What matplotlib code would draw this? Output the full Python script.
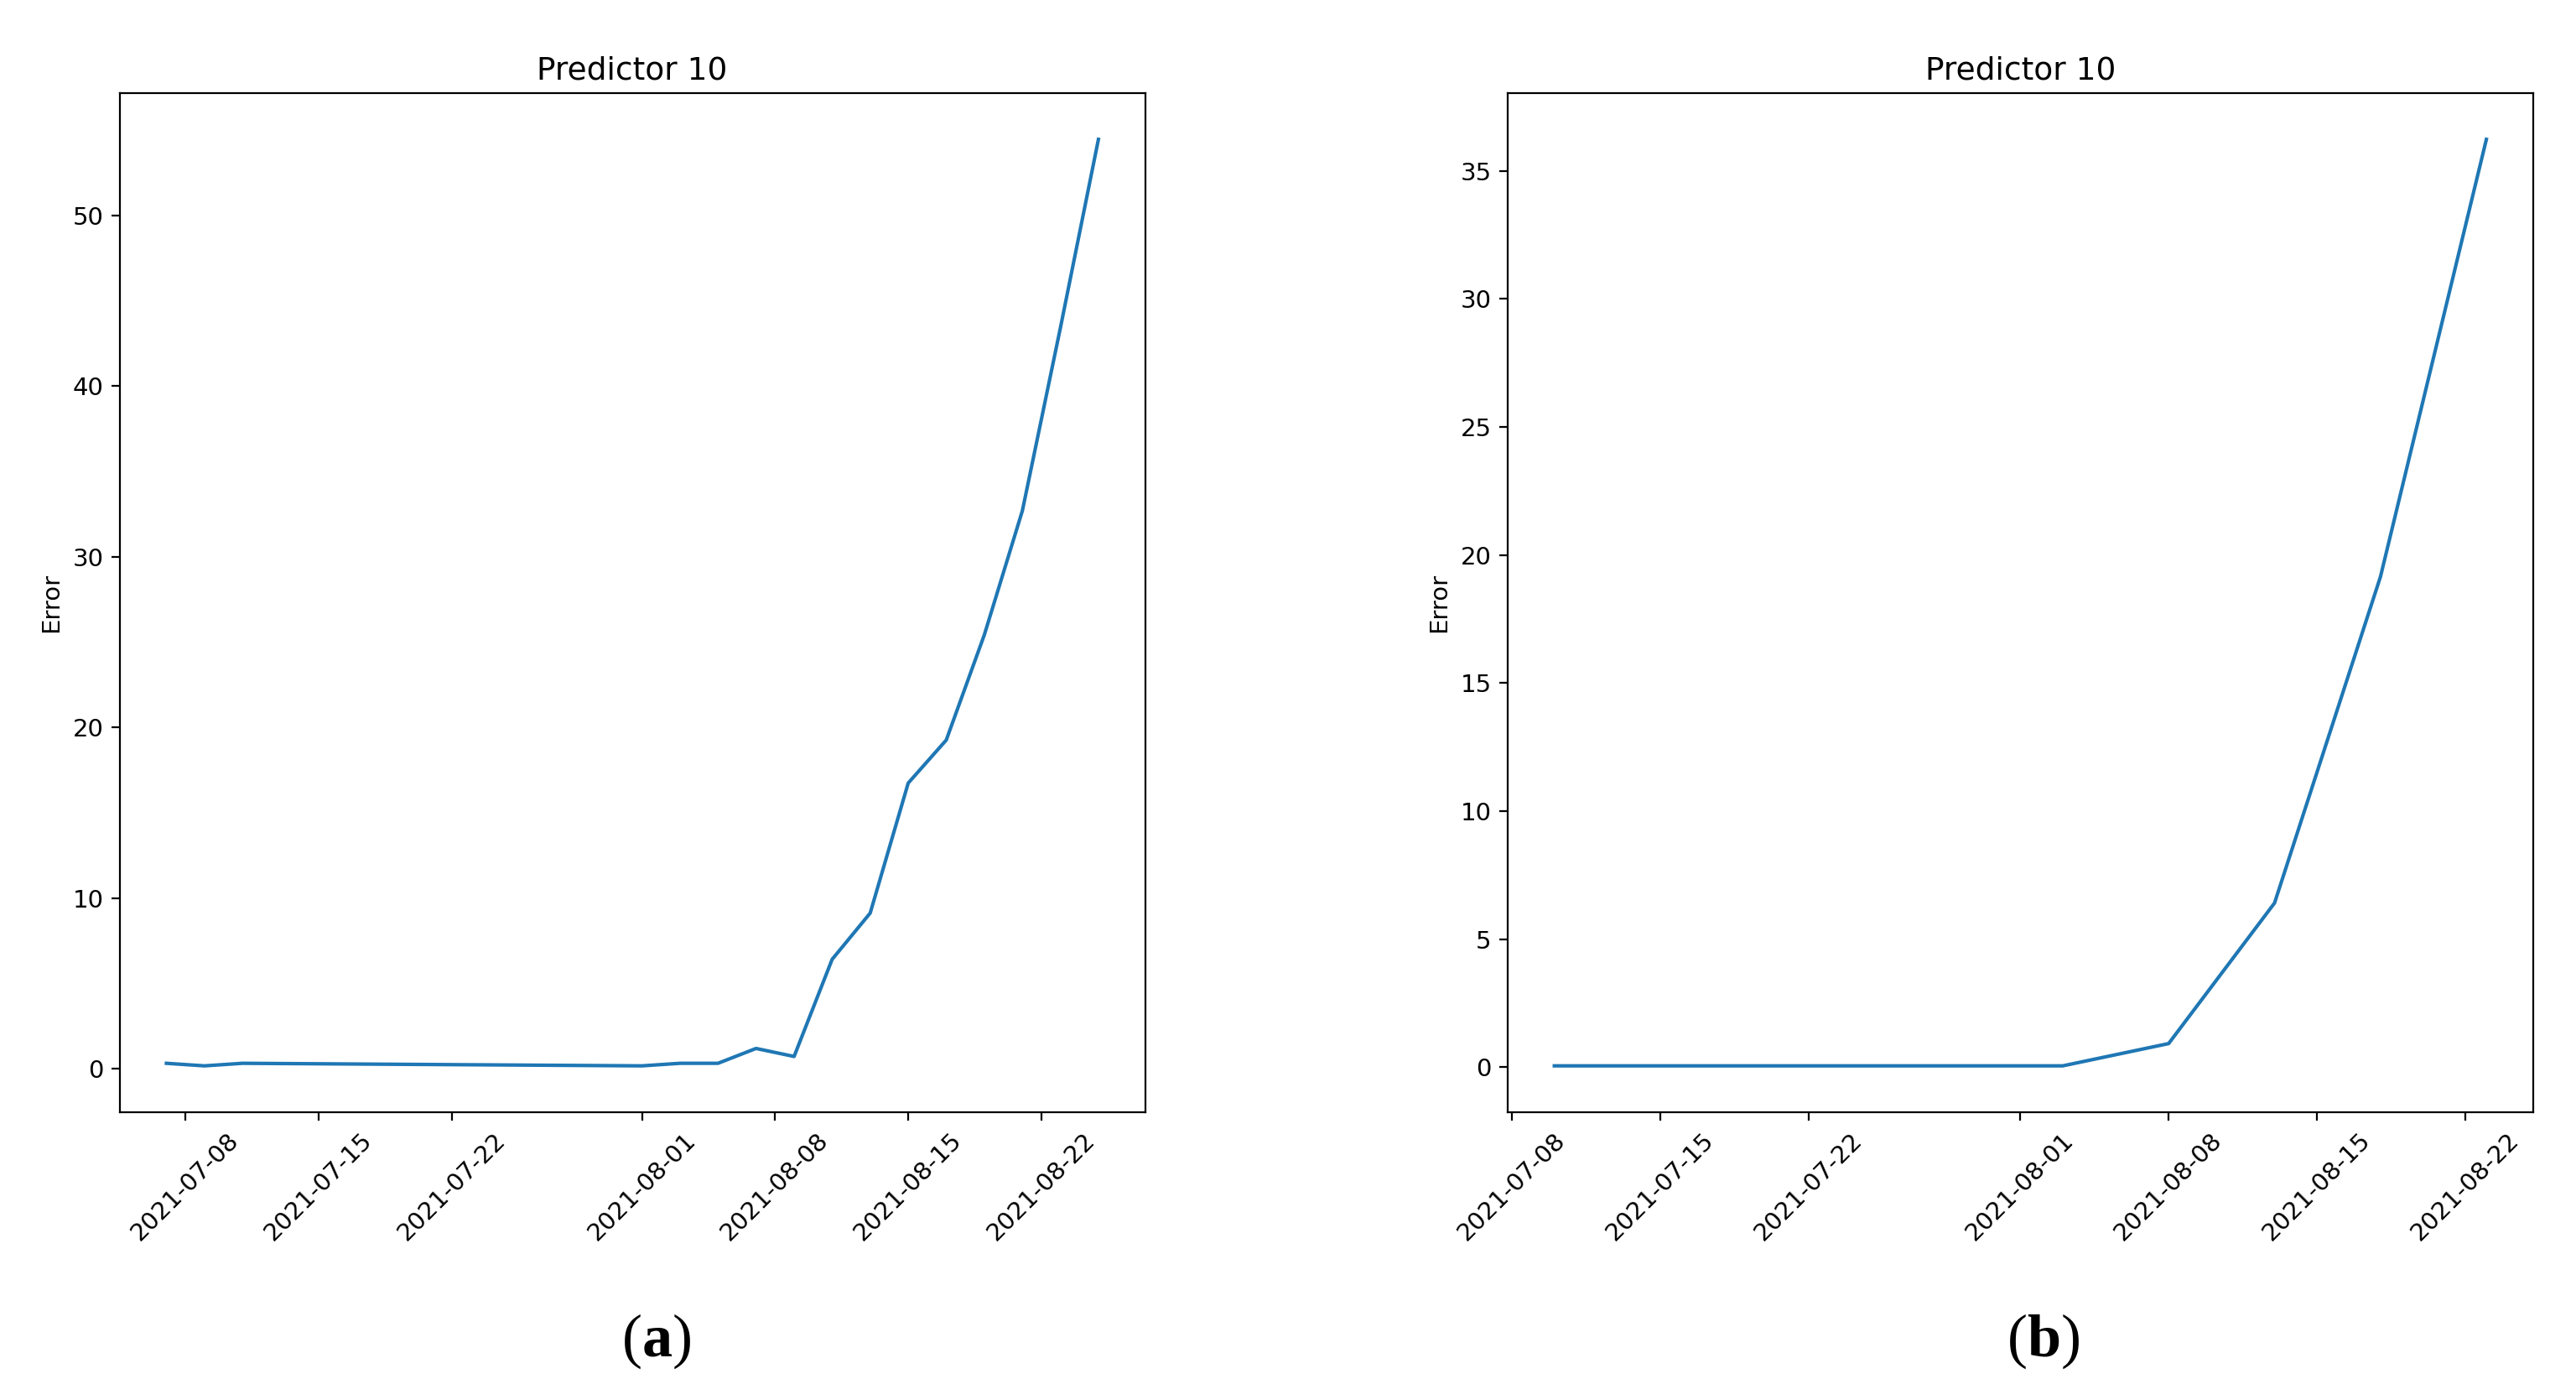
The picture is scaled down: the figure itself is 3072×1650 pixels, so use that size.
import matplotlib
matplotlib.use("Agg")
import matplotlib.pyplot as plt
import matplotlib.dates as mdates
import pandas as pd

# panel (a): error of predictor 10, every 2 days (gap in July)
dates_a = pd.to_datetime([
    "2021-07-07", "2021-07-09", "2021-07-11", "2021-08-01", "2021-08-03",
    "2021-08-05", "2021-08-07", "2021-08-09", "2021-08-11", "2021-08-13",
    "2021-08-15", "2021-08-17", "2021-08-19", "2021-08-21", "2021-08-23",
    "2021-08-25",
])
error_a = [0.31, 0.16, 0.31, 0.16, 0.31, 0.31, 1.18, 0.71, 6.40, 9.11,
           16.73, 19.25, 25.41, 32.68, 43.4, 54.45]

# panel (b): error of predictor 10, sparser sampling
dates_b = pd.to_datetime([
    "2021-07-10", "2021-08-03", "2021-08-08", "2021-08-13", "2021-08-18",
    "2021-08-23",
])
error_b = [0.05, 0.05, 0.92, 6.41, 19.15, 36.23]

title = "Predictor 10"
ylabel = "Error"
captions = ["a", "b"]

plt.rcParams["mathtext.fontset"] = "custom"
plt.rcParams["mathtext.rm"] = "Liberation Serif"
plt.rcParams["mathtext.bf"] = "Liberation Serif:bold"

fig = plt.figure(figsize=(15.36, 8.25), dpi=200)

ax_a = fig.add_axes([0.0465, 0.1964, 0.398, 0.7364])
ax_b = fig.add_axes([0.5853, 0.1964, 0.398, 0.7364])

for ax, d, e in [(ax_a, dates_a, error_a), (ax_b, dates_b, error_b)]:
    ax.plot(d, e, color="#1f77b4", linewidth=1.5)
    ax.set_title(title, fontsize=13.5)
    ax.set_ylabel(ylabel, fontsize=10.5)
    ax.xaxis.set_major_locator(mdates.DayLocator(bymonthday=[1, 8, 15, 22]))
    ax.xaxis.set_major_formatter(mdates.DateFormatter("%Y-%m-%d"))
    ax.tick_params(labelsize=10.5)
    for lab in ax.get_xticklabels():
        lab.set_rotation(45)

fig.text(0.2546, 0.031, r"($\mathbf{%s}$)" % captions[0], fontsize=26,
         family="Liberation Serif", ha="center", va="center")
fig.text(0.7933, 0.031, r"($\mathbf{%s}$)" % captions[1], fontsize=26,
         family="Liberation Serif", ha="center", va="center")

fig.savefig("out.png", dpi=200)
